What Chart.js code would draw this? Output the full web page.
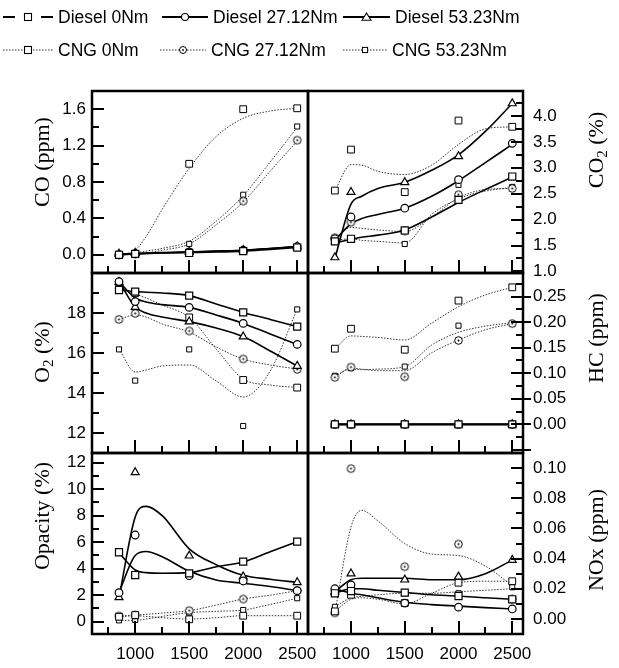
<!DOCTYPE html>
<html>
<head>
<meta charset="utf-8">
<script src="https://cdn.jsdelivr.net/npm/chart.js@4.4.1/dist/chart.umd.min.js"></script>
<style>
  html, body { margin: 0; padding: 0; background: #fff; }
  #wrap { position: relative; width: 619px; height: 668px; overflow: hidden; }
  #wrap canvas { position: absolute; left: 0; top: 0; }
  .leg { position: absolute; height: 24px; display: flex; align-items: center;
         font: 17.5px "Liberation Sans", Arial, sans-serif; color: #000; white-space: nowrap; }
  .leg svg { margin-right: 5px; }
</style>
</head>
<body>
<div id="wrap"></div>
<script>
// engine speed (rpm) of the measured points and of the fitted curves
const speeds = [850, 1000, 1500, 2000, 2500];
const fitSpeeds = [850, 1000, 1100, 1250, 1500, 1750, 2000, 2250, 2500];
const seriesNames = ["Diesel 0Nm", "Diesel 27.12Nm", "Diesel 53.23Nm", "CNG 0Nm", "CNG 27.12Nm", "CNG 53.23Nm"];
const xTicks = [1000, 1500, 2000, 2500];

// CO (ppm)
const coTicks = [0, 0.4, 0.8, 1.2, 1.6];
const coMeasured = [
  [0.0, 0.01, 0.02, 0.04, 0.08],
  [0.0, 0.01, 0.03, 0.05, 0.09],
  [0.01, 0.02, 0.03, 0.05, 0.09],
  [0.0, 0.01, 1.0, 1.6, 1.61],
  [0.0, 0.01, 0.03, 0.59, 1.26],
  [0.0, 0.01, 0.12, 0.66, 1.41]
];
const coFit = [
  [0.0, 0.01, 0.015, 0.02, 0.025, 0.03, 0.04, 0.06, 0.08],
  [0.0, 0.01, 0.015, 0.02, 0.03, 0.04, 0.05, 0.07, 0.09],
  [0.01, 0.015, 0.02, 0.025, 0.03, 0.04, 0.05, 0.07, 0.09],
  [0.0, 0.05, 0.2, 0.5, 0.95, 1.3, 1.5, 1.58, 1.61],
  [0.0, 0.01, 0.02, 0.05, 0.12, 0.33, 0.58, 0.92, 1.25],
  [0.0, 0.02, 0.04, 0.07, 0.15, 0.37, 0.65, 1.02, 1.4]
];

// CO2 (%)
const co2Ticks = [1.0, 1.5, 2.0, 2.5, 3.0, 3.5, 4.0];
const co2Measured = [
  [1.58, 1.63, 1.79, 2.38, 2.83],
  [1.63, 2.05, 2.22, 2.77, 3.47],
  [1.27, 2.53, 2.72, 3.22, 4.24],
  [2.56, 3.35, 2.53, 3.91, 3.79],
  [1.65, 1.95, 1.78, 2.48, 2.6],
  [1.6, 1.63, 1.53, 2.67, 2.63]
];
const co2Fit = [
  [1.55, 1.62, 1.66, 1.7, 1.8, 2.05, 2.33, 2.58, 2.82],
  [1.6, 1.92, 2.02, 2.1, 2.22, 2.45, 2.75, 3.1, 3.45],
  [1.25, 2.3, 2.45, 2.6, 2.72, 2.95, 3.25, 3.7, 4.24],
  [2.56, 3.06, 3.05, 2.93, 2.87, 3.05, 3.45, 3.75, 3.79],
  [1.65, 1.85, 1.83, 1.8, 1.77, 2.05, 2.42, 2.58, 2.6],
  [1.6, 1.63, 1.6, 1.58, 1.55, 2.1, 2.4, 2.55, 2.62]
];

// O2 (%)
const o2Ticks = [12, 14, 16, 18];
const o2Measured = [
  [19.15, 19.07, 18.87, 18.03, 17.32],
  [19.57, 18.57, 18.28, 17.48, 16.43],
  [19.55, 18.3, 17.57, 16.82, 15.35],
  [19.2, 19.0, 17.78, 14.65, 14.27],
  [17.68, 17.98, 17.1, 15.7, 15.18],
  [16.18, 14.62, 16.18, 12.35, 18.18]
];
const o2Fit = [
  [19.15, 19.07, 19.04, 19.0, 18.87, 18.45, 18.03, 17.68, 17.32],
  [19.57, 18.75, 18.55, 18.42, 18.28, 17.9, 17.48, 16.95, 16.43],
  [19.6, 18.3, 18.0, 17.8, 17.57, 17.25, 16.82, 16.1, 15.35],
  [19.2, 18.95, 18.75, 18.4, 17.78, 16.2, 14.7, 14.4, 14.27],
  [17.68, 17.9, 17.8, 17.45, 17.05, 16.3, 15.7, 15.4, 15.2],
  [16.2, 15.05, 15.15, 15.35, 15.4, 14.6, 13.8, 15.1, 18.2]
];

// HC (ppm)
const hcTicks = [0, 0.05, 0.1, 0.15, 0.2, 0.25];
const hcMeasured = [
  [0, 0, 0, 0, 0],
  [0, 0, 0, 0, 0],
  [0, 0, 0, 0, 0],
  [0.148, 0.187, 0.146, 0.242, 0.268],
  [0.092, 0.112, 0.093, 0.164, 0.197],
  [0.095, 0.11, 0.113, 0.193, 0.197]
];
const hcFit = [
  [0, 0, 0, 0, 0, 0, 0, 0, 0],
  [0, 0, 0, 0, 0, 0, 0, 0, 0],
  [0, 0, 0, 0, 0, 0, 0, 0, 0],
  [0.148, 0.173, 0.172, 0.17, 0.165, 0.198, 0.23, 0.253, 0.268],
  [0.092, 0.11, 0.108, 0.105, 0.105, 0.14, 0.165, 0.185, 0.197],
  [0.095, 0.108, 0.107, 0.108, 0.113, 0.155, 0.18, 0.192, 0.199]
];

// Opacity (%)
const opacityTicks = [0, 2, 4, 6, 8, 10, 12];
const opacityMeasured = [
  [5.24, 3.52, 3.65, 4.53, 6.04],
  [2.19, 6.54, 3.47, 3.07, 2.34],
  [1.84, 11.27, 4.98, 3.4, 2.97],
  [0.37, 0.5, 0.18, 0.45, 0.45],
  [0.43, 0.5, 0.83, 1.71, 2.34],
  [0.1, 0.13, 0.68, 0.88, 1.77]
];
const opacityFit = [
  [5.2, 3.9, 3.7, 3.65, 3.7, 4.15, 4.5, 5.28, 6.04],
  [2.2, 5.0, 5.3, 4.9, 3.8, 3.15, 2.9, 2.65, 2.34],
  [1.8, 7.9, 8.7, 8.0, 5.5, 4.3, 3.5, 3.2, 2.97],
  [0.35, 0.45, 0.4, 0.3, 0.2, 0.3, 0.45, 0.45, 0.45],
  [0.43, 0.5, 0.55, 0.65, 0.83, 1.25, 1.71, 2.0, 2.34],
  [0.1, 0.1, 0.2, 0.4, 0.68, 0.78, 0.88, 1.3, 1.77]
];

// NOx (ppm)
const noxTicks = [0, 0.02, 0.04, 0.06, 0.08, 0.1];
const noxMeasured = [
  [0.017, 0.0185, 0.0174, 0.0152, 0.013],
  [0.02, 0.0225, 0.0105, 0.0078, 0.0066],
  [0.018, 0.03, 0.026, 0.028, 0.039],
  [0.005, 0.016, 0.0105, 0.024, 0.025],
  [0.004, 0.0996, 0.0346, 0.0496, 0.0132],
  [0.008, 0.017, 0.017, 0.017, 0.021]
];
const noxFit = [
  [0.017, 0.02, 0.02, 0.019, 0.0175, 0.016, 0.0152, 0.014, 0.013],
  [0.02, 0.017, 0.016, 0.014, 0.011, 0.0095, 0.0085, 0.0075, 0.0066],
  [0.018, 0.026, 0.027, 0.027, 0.027, 0.026, 0.026, 0.03, 0.039],
  [0.005, 0.013, 0.014, 0.013, 0.01, 0.017, 0.024, 0.025, 0.025],
  [0.004, 0.061, 0.072, 0.065, 0.05, 0.043, 0.042, 0.035, 0.022],
  [0.008, 0.014, 0.015, 0.016, 0.017, 0.017, 0.018, 0.019, 0.02]
];

// circle with a dot in the middle, used for CNG 27.12Nm
function dotCircle() {
  const c = document.createElement("canvas");
  c.width = 11; c.height = 11;
  const g = c.getContext("2d");
  g.fillStyle = "#fff"; g.strokeStyle = "#000"; g.lineWidth = 1;
  g.beginPath(); g.arc(5.5, 5.5, 3.8, 0, Math.PI * 2); g.fill(); g.stroke();
  g.fillStyle = "#000";
  g.beginPath(); g.arc(5.5, 5.5, 1, 0, Math.PI * 2); g.fill();
  return c;
}

const seriesStyle = [
  { point: "rect", radius: 5, pbw: 1.2, color: "#000", width: 1.6, dash: [] },
  { point: "circle", radius: 3.8, pbw: 1.2, color: "#000", width: 1.6, dash: [] },
  { point: "triangle", radius: 4.6, pbw: 1.2, color: "#000", width: 1.6, dash: [] },
  { point: "rect", radius: 4.8, pbw: 1, color: "#333", width: 1, dash: [1.5, 1.5] },
  { point: dotCircle(), radius: 4, pbw: 1, color: "#333", width: 1, dash: [1.5, 1.5] },
  { point: "rect", radius: 3.6, pbw: 1, color: "#333", width: 1, dash: [1.5, 1.5] }
];

const cols = [[92, 308], [308, 523]];
const rows = [[91, 273], [273, 453], [453, 634]];

const panels = [
  { measured: coMeasured, fit: coFit, ticks: coTicks, min: -0.2, max: 1.8, digits: 1, col: 0, row: 0,
    title: [["CO (ppm)", false]], tx: 41, ty: 162 },
  { measured: co2Measured, fit: co2Fit, ticks: co2Ticks, min: 0.97, max: 4.48, digits: 1, col: 1, row: 0,
    title: [["CO", false], ["2", true], [" (%)", false]], tx: 595, ty: 150 },
  { measured: o2Measured, fit: o2Fit, ticks: o2Ticks, min: 11, max: 20, digits: 0, col: 0, row: 1,
    title: [["O", false], ["2", true], [" (%)", false]], tx: 41, ty: 352 },
  { measured: hcMeasured, fit: hcFit, ticks: hcTicks, min: -0.056, max: 0.296, digits: 2, col: 1, row: 1,
    title: [["HC (ppm)", false]], tx: 595, ty: 338, outer: 8 },
  { measured: opacityMeasured, fit: opacityFit, ticks: opacityTicks, min: -0.93, max: 12.73, digits: 0, col: 0, row: 2,
    title: [["Opacity (%)", false]], tx: 41, ty: 516 },
  { measured: noxMeasured, fit: noxFit, ticks: noxTicks, min: -0.01, max: 0.11, digits: 2, col: 1, row: 2,
    title: [["NOx (ppm)", false]], tx: 595, ty: 540 }
];

function tickMarks(scale, majors) {
  const step = (majors[1] - majors[0]) / 2;
  const out = [];
  const kMin = Math.ceil((scale.min - majors[0]) / step - 1e-6);
  const kMax = Math.floor((scale.max - majors[0]) / step + 1e-6);
  for (let k = kMin; k <= kMax; k++) out.push({ v: majors[0] + k * step, major: k % 2 === 0 });
  return out;
}

// box around the plot area and inward ticks
const panelFrame = {
  id: "panelFrame",
  afterDatasetsDraw(chart, args, opts) {
    const { ctx, chartArea: a, scales } = chart;
    ctx.save();
    ctx.strokeStyle = "#000";
    ctx.lineWidth = 2;
    ctx.beginPath();
    const ys = scales.y;
    const left = ys.position === "left";
    const x0 = left ? a.left : a.right;
    const dir = left ? 1 : -1;
    tickMarks(ys, opts.yTicks).forEach(t => {
      const py = Math.round(ys.getPixelForValue(t.v));
      const len = t.major ? 12 : 7;
      const out = t.major ? (opts.outer || 0) : 0;
      ctx.moveTo(x0 - dir * out, py);
      ctx.lineTo(x0 + dir * len, py);
    });
    const xs = scales.x;
    tickMarks(xs, xTicks).forEach(t => {
      const px = Math.round(xs.getPixelForValue(t.v));
      const len = t.major ? 13 : 7;
      ctx.moveTo(px, a.bottom);
      ctx.lineTo(px, a.bottom - len);
    });
    ctx.stroke();
    ctx.lineWidth = 2.5;
    ctx.strokeRect(a.left, a.top, a.right - a.left, a.bottom - a.top);
    ctx.restore();
  }
};

// rotated axis title reading bottom to top, with optional subscript parts
const sideTitle = {
  id: "sideTitle",
  afterDraw(chart, args, opts) {
    const { ctx } = chart;
    const big = "22px 'Liberation Serif', 'Times New Roman', serif";
    const small = "15px 'Liberation Serif', 'Times New Roman', serif";
    ctx.save();
    ctx.translate(opts.x, opts.y);
    ctx.rotate(-Math.PI / 2);
    let total = 0;
    opts.parts.forEach(([t, sub]) => { ctx.font = sub ? small : big; total += ctx.measureText(t).width; });
    let cx = -total / 2;
    ctx.fillStyle = "#000";
    ctx.textBaseline = "alphabetic";
    opts.parts.forEach(([t, sub]) => {
      ctx.font = sub ? small : big;
      ctx.fillText(t, cx, sub ? 12 : 7.5);
      cx += ctx.measureText(t).width;
    });
    ctx.restore();
  }
};

Chart.defaults.font.family = "'Liberation Sans', Arial, sans-serif";
Chart.defaults.font.size = 17;
Chart.defaults.color = "#000";

const wrap = document.getElementById("wrap");

panels.forEach(p => {
  const canvas = document.createElement("canvas");
  canvas.width = 619;
  canvas.height = 668;
  wrap.appendChild(canvas);
  const isLeft = p.col === 0;
  const isBottom = p.row === 2;
  const [top, bottom] = rows[p.row];
  const xAxisH = isBottom ? 34 : 0;

  const datasets = [];
  seriesNames.forEach((name, i) => {
    const st = seriesStyle[i];
    datasets.push({
      label: name,
      data: speeds.map((x, k) => ({ x, y: p.measured[i][k] })),
      showLine: false,
      pointStyle: st.point,
      pointRadius: st.radius,
      pointBorderWidth: st.pbw,
      pointBackgroundColor: "#fff",
      pointBorderColor: "#000",
      order: 0
    });
    datasets.push({
      label: name + " fit",
      data: fitSpeeds.map((x, k) => ({ x, y: p.fit[i][k] })),
      showLine: true,
      pointRadius: 0,
      borderColor: st.color,
      borderWidth: st.width,
      borderDash: st.dash,
      cubicInterpolationMode: "monotone",
      fill: false,
      order: 1
    });
  });

  new Chart(canvas, {
    type: "scatter",
    data: { datasets },
    options: {
      responsive: false,
      animation: false,
      events: [],
      layout: {
        padding: {
          left: isLeft ? 0 : cols[1][0],
          right: isLeft ? 619 - cols[0][1] : 0,
          top: top,
          bottom: 668 - bottom - xAxisH
        }
      },
      scales: {
        x: {
          type: "linear", min: 600, max: 2600, position: "bottom",
          afterBuildTicks: s => { s.ticks = xTicks.map(v => ({ value: v })); },
          afterFit: s => { s.height = xAxisH; },
          grid: { display: false, drawTicks: false },
          border: { display: false },
          ticks: { display: isBottom, autoSkip: false, maxRotation: 0, padding: 10, callback: v => String(v) }
        },
        y: {
          type: "linear", min: p.min, max: p.max, position: isLeft ? "left" : "right",
          afterBuildTicks: s => { s.ticks = p.ticks.map(v => ({ value: v })); },
          afterFit: s => { s.width = isLeft ? cols[0][0] : 619 - cols[1][1]; },
          grid: { display: false, drawTicks: false },
          border: { display: false },
          ticks: { autoSkip: false, padding: isLeft ? 6 : 10, callback: v => v.toFixed(p.digits) }
        }
      },
      plugins: {
        legend: { display: false },
        tooltip: { enabled: false },
        panelFrame: { yTicks: p.ticks, outer: p.outer },
        sideTitle: { parts: p.title, x: p.tx, y: p.ty }
      }
    },
    plugins: [panelFrame, sideTitle]
  });
});

// legend above the panels
const legendPos = [
  { x: 3, y: 17, w: 50 }, { x: 162, y: 17, w: 46 }, { x: 343, y: 17, w: 47 },
  { x: 3, y: 50, w: 50 }, { x: 160, y: 50, w: 46 }, { x: 343, y: 50, w: 44 }
];

function markerSvg(i, cx, cy) {
  if (i === 0 || i === 3) return `<rect x="${cx - 3.5}" y="${cy - 3.5}" width="7" height="7" fill="#fff" stroke="#000" stroke-width="1.1"/>`;
  if (i === 5) return `<rect x="${cx - 2.6}" y="${cy - 2.6}" width="5.2" height="5.2" fill="#fff" stroke="#000" stroke-width="1"/>`;
  if (i === 1) return `<circle cx="${cx}" cy="${cy}" r="3.5" fill="#fff" stroke="#000" stroke-width="1.1"/>`;
  if (i === 4) return `<circle cx="${cx}" cy="${cy}" r="3.5" fill="#fff" stroke="#000" stroke-width="1"/><circle cx="${cx}" cy="${cy}" r="0.9" fill="#000"/>`;
  return `<polygon points="${cx},${cy - 4} ${cx - 4.5},${cy + 3.2} ${cx + 4.5},${cy + 3.2}" fill="#fff" stroke="#000" stroke-width="1.1"/>`;
}

seriesNames.forEach((name, i) => {
  const pos = legendPos[i];
  const w = pos.w, cy = 10, cx = w / 2;
  let line;
  if (i === 0) line = `<path d="M0,${cy}H12M${w - 12},${cy}H${w}" stroke="#000" stroke-width="2"/>`;
  else if (i < 3) line = `<path d="M0,${cy}H${w}" stroke="#000" stroke-width="2"/>`;
  else line = `<path d="M0,${cy}H${w}" stroke="#333" stroke-width="1" stroke-dasharray="1.5 1.5"/>`;
  const div = document.createElement("div");
  div.className = "leg";
  div.style.left = pos.x + "px";
  div.style.top = (pos.y - 12) + "px";
  div.innerHTML = `<svg width="${w}" height="20">${line}${markerSvg(i, cx, cy)}</svg><span>${name}</span>`;
  wrap.appendChild(div);
});
</script>
</body>
</html>
